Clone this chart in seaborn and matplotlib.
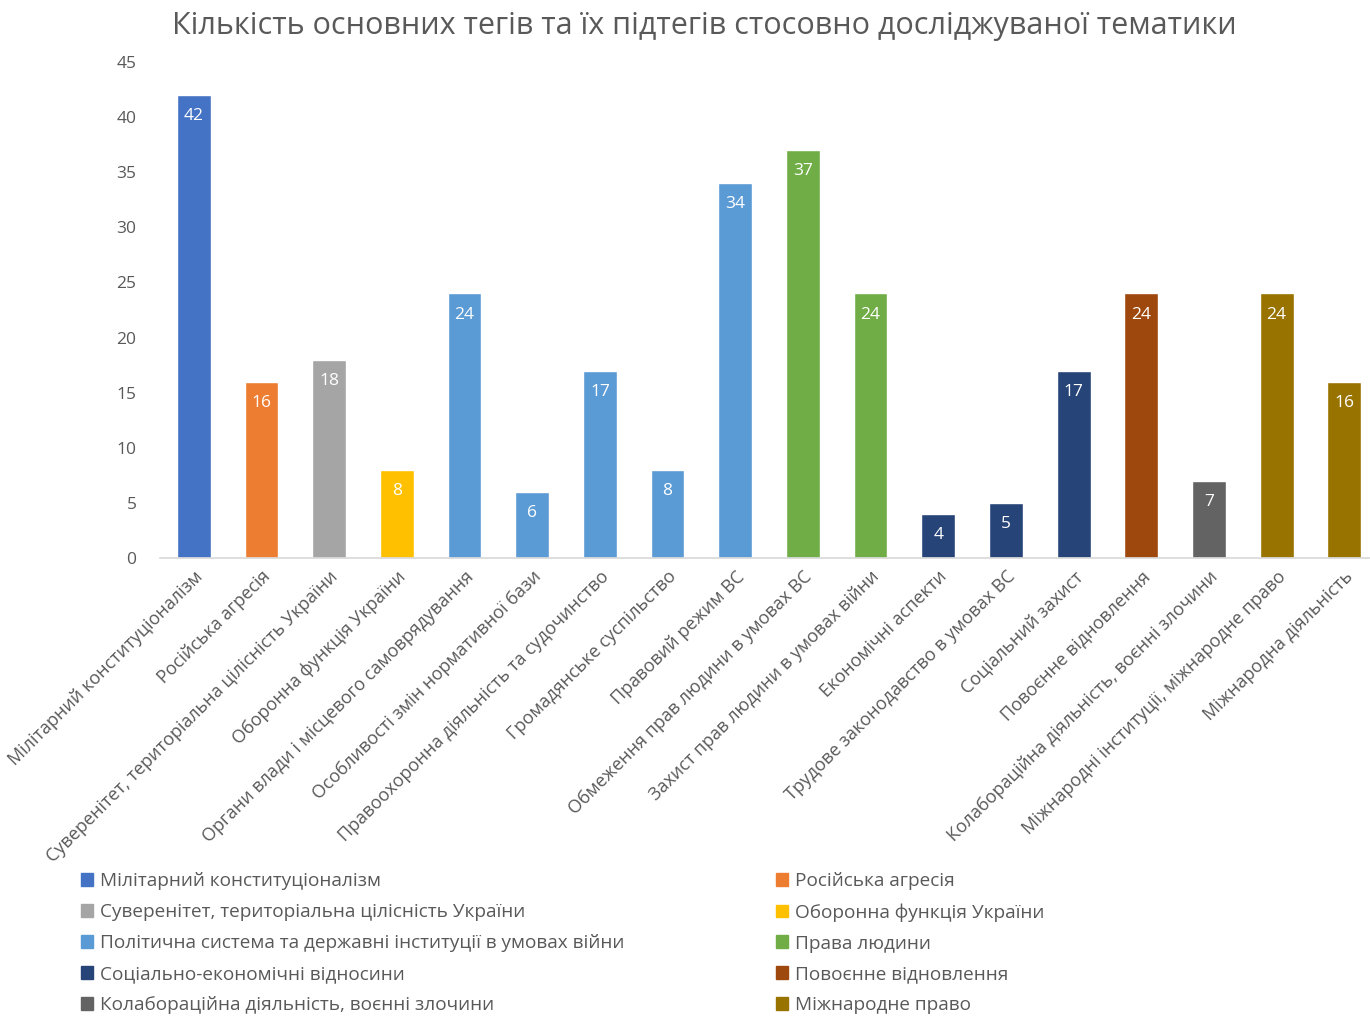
import matplotlib
matplotlib.use("Agg")
import matplotlib.pyplot as plt
from matplotlib.patches import Patch
import seaborn as sns
import pandas as pd

# Data
categories = [
    "Мілітарний конституціоналізм",
    "Російська агресія",
    "Суверенітет, територіальна цілісність України",
    "Оборонна функція України",
    "Органи влади і місцевого самоврядування",
    "Особливості змін нормативної бази",
    "Правоохоронна діяльність та судочинство",
    "Громадянське суспільство",
    "Правовий режим ВС",
    "Обмеження прав людини в умовах ВС",
    "Захист прав людини в умовах війни",
    "Економічні аспекти",
    "Трудове законодавство в умовах ВС",
    "Соціальний захист",
    "Повоєнне відновлення",
    "Колабораційна діяльність, воєнні злочини",
    "Міжнародні інституції, міжнародне право",
    "Міжнародна діяльність",
]
values = [42, 16, 18, 8, 24, 6, 17, 8, 34, 37, 24, 4, 5, 17, 24, 7, 24, 16]

groups = [
    "Мілітарний конституціоналізм",
    "Російська агресія",
    "Суверенітет, територіальна цілісність України",
    "Оборонна функція України",
    "Політична система та державні інституції в умовах війни",
    "Права людини",
    "Соціально-економічні відносини",
    "Повоєнне відновлення",
    "Колабораційна діяльність, воєнні злочини",
    "Міжнародне право",
]
group_colors = ["#4472C4", "#ED7D31", "#A5A5A5", "#FFC000", "#5B9BD5",
                "#70AD47", "#264478", "#9E480E", "#636363", "#997300"]
# group index of every bar
bar_group = [0, 1, 2, 3, 4, 4, 4, 4, 4, 5, 5, 6, 6, 6, 7, 8, 9, 9]

df = pd.DataFrame({"cat": categories, "val": values,
                   "grp": [groups[i] for i in bar_group]})
palette = dict(zip(groups, group_colors))

sns.set_theme(style="white")
plt.rcParams['font.family'] = ['Open Sans', 'DejaVu Sans']
text_col = "#595959"

fig = plt.figure(figsize=(13.7, 10.16), dpi=100)
ax = fig.add_axes([160/1370, (1016-558)/1016, 1210/1370, 496/1016])

sns.barplot(data=df, x="cat", y="val", hue="grp", palette=palette,
            dodge=False, width=0.5, legend=False, ax=ax, saturation=1)

ax.set_ylim(0, 45)
ax.set_xlim(-0.5, 17.38)
ax.set_yticks(range(0, 46, 5))
ax.set_xlabel("")
ax.set_ylabel("")
for s in ["top", "right", "left"]:
    ax.spines[s].set_visible(False)
ax.spines["bottom"].set_color("#D9D9D9")
ax.tick_params(axis="y", length=0, labelsize=12.5, labelcolor=text_col, pad=17)
ax.tick_params(axis="x", length=0, labelsize=13, labelcolor=text_col, pad=7)
plt.setp(ax.get_xticklabels(), rotation=45, ha="right", rotation_mode="anchor")

# value labels inside top of bars
for i, v in enumerate(values):
    ax.text(i, v - 1.2, str(v), ha="center", va="top", color="white", fontsize=12.5)

fig.text(0.514, 0.974, "Кількість основних тегів та їх підтегів стосовно досліджуваної тематики",
         ha="center", va="center", fontsize=22, color=text_col)

# legend, row-major like Excel
handles = [Patch(color=c, label=g) for g, c in zip(groups, group_colors)]
col1 = handles[0::2]
col2 = handles[1::2]
leg = fig.legend(handles=col1 + col2, ncol=2, loc="upper left",
                 bbox_to_anchor=(64/1370, 1 - 855/1016), frameon=False,
                 fontsize=13.7, labelcolor=text_col, handlelength=0.65, handleheight=0.65,
                 handletextpad=0.35, columnspacing=7.95, labelspacing=0.68)

fig.savefig("out.png", dpi=100)
